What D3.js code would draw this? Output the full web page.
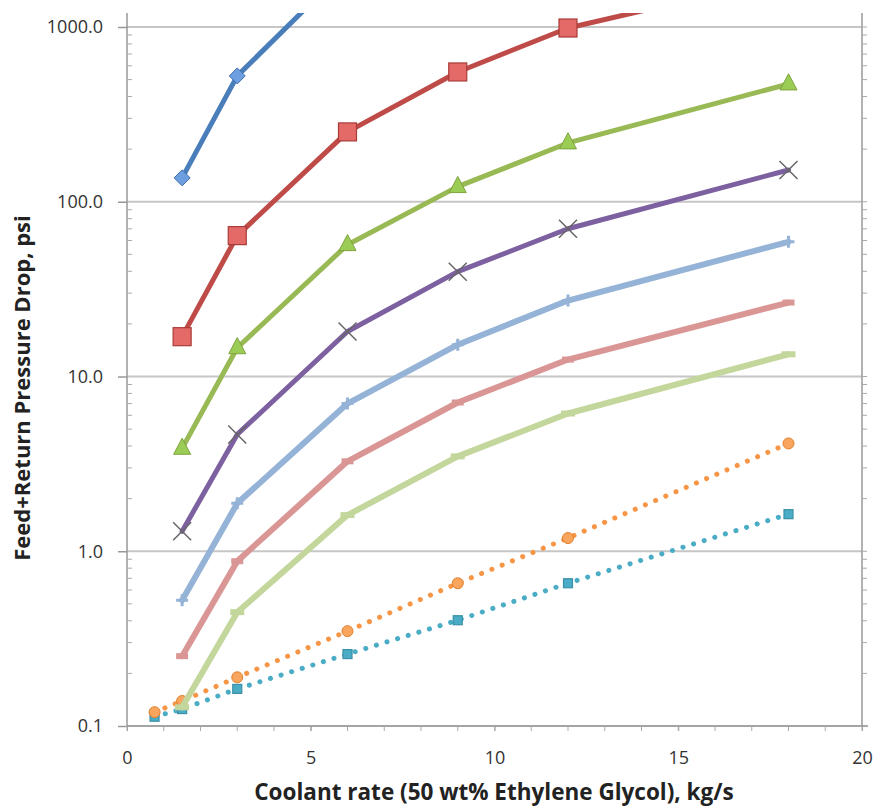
<!DOCTYPE html>
<html><head><meta charset="utf-8">
<script src="https://cdn.jsdelivr.net/npm/d3@7"></script>
<style>body{margin:0;background:#fff}svg{display:block}</style>
</head><body><svg id="c" width="877" height="806"></svg>
<script>
const xs = [0.75, 1.5, 3, 6, 9, 12, 18];
const blue   = [null, 137, 525, 2200, 4800, 8500, 19000];
const red    = [null, 16.9, 64, 251, 553, 987, 1930];
const green  = [null, 3.88, 14.6, 56.8, 122, 217, 472];
const purple = [null, 1.30, 4.66, 18.1, 39.8, 70.1, 152];
const ltblue = [null, 0.525, 1.88, 7.0, 15.2, 27.2, 59];
const pink   = [null, 0.251, 0.877, 3.27, 7.1, 12.5, 26.5];
const ltgreen= [null, 0.128, 0.448, 1.61, 3.49, 6.14, 13.4];
const orange = [0.120, 0.139, 0.19, 0.349, 0.656, 1.19, 4.14];
const teal   = [0.113, 0.125, 0.163, 0.258, 0.403, 0.656, 1.63];
const xTicks = [0, 5, 10, 15, 20];
const yTicks = [0.1, 1, 10, 100, 1000];
const xTitle = "Coolant rate (50 wt% Ethylene Glycol), kg/s";
const yTitle = "Feed+Return Pressure Drop, psi";

const svg = d3.select("#c");
const L = 127, R = 862, T = 13, B = 726;
const x = d3.scaleLinear().domain([0, 20]).range([L, R]);
const yTop = 1000 * Math.pow(10, 14 / 174.75);
const y = d3.scaleLog().domain([0.1, yTop]).range([B, T]);

const font = "'Open Sans', 'Liberation Sans', sans-serif";

// gridlines
svg.append("g").selectAll("line").data(yTicks).join("line")
  .attr("x1", L).attr("x2", R).attr("y1", d => y(d)).attr("y2", d => y(d))
  .attr("stroke", "#c6c6c6").attr("stroke-width", 2.2);

const minors = [];
for (let e = -1; e <= 3; e++) for (let m = 2; m <= 9; m++) { const v = m * Math.pow(10, e); if (v <= yTop) minors.push(v); }

// left axis
const gl = svg.append("g").attr("transform", `translate(${L},0)`);
gl.call(d3.axisLeft(y).tickValues(yTicks).tickFormat(d3.format(".1f")).tickSize(9).tickPadding(15));
gl.select(".domain").remove();
gl.selectAll(".tick line").attr("stroke", "#999").attr("stroke-width", 1.5);
gl.selectAll(".tick text").attr("font-family", font).attr("font-size", 18).attr("fill", "#333");
gl.append("line").attr("y1", T).attr("y2", B).attr("stroke", "#999").attr("stroke-width", 1.5);
gl.append("g").selectAll("line").data(minors).join("line")
  .attr("x1", 0).attr("x2", 5).attr("y1", d => y(d)).attr("y2", d => y(d)).attr("stroke", "#aaa").attr("stroke-width", 1);

// right axis
const gr = svg.append("g").attr("transform", `translate(${R},0)`);
gr.append("line").attr("y1", T).attr("y2", B).attr("stroke", "#999").attr("stroke-width", 1.5);
gr.append("g").selectAll("line").data(minors.concat(yTicks)).join("line")
  .attr("x1", 0).attr("x2", 5).attr("y1", d => y(d)).attr("y2", d => y(d)).attr("stroke", "#aaa").attr("stroke-width", 1);

// bottom axis
const gb = svg.append("g").attr("transform", `translate(0,${B})`);
gb.call(d3.axisBottom(x).tickValues(xTicks).tickSize(5).tickPadding(20));
gb.select(".domain").remove();
gb.selectAll(".tick line").attr("stroke", "#999");
gb.selectAll(".tick text").attr("font-family", font).attr("font-size", 18).attr("fill", "#333");
gb.append("line").attr("x1", L).attr("x2", R + 6).attr("stroke", "#999").attr("stroke-width", 1.5);
gb.append("g").selectAll("line").data(d3.range(0, 21)).join("line")
  .attr("x1", d => x(d)).attr("x2", d => x(d)).attr("y1", 0).attr("y2", 5).attr("stroke", "#aaa");

// titles
svg.append("text").attr("x", 494).attr("y", 800).attr("text-anchor", "middle")
  .attr("font-family", font).attr("font-weight", "bold").attr("font-size", 22.5).attr("fill", "#222").text(xTitle);
svg.append("text").attr("transform", `translate(30,388) rotate(-90)`).attr("text-anchor", "middle")
  .attr("font-family", font).attr("font-weight", "bold").attr("font-size", 22).attr("fill", "#222").text(yTitle);

// clip
svg.append("clipPath").attr("id", "clip").append("rect").attr("x", L).attr("y", T).attr("width", R - L + 20).attr("height", B - T + 20);
const plot = svg.append("g").attr("clip-path", "url(#clip)");

const series = [
  { v: teal, line: "#4bacc6", dotted: true, marker: "sq", mfill: "#4bacc6", mstroke: "#3b8fa6", ms: 9 },
  { v: orange, line: "#f79646", dotted: true, marker: "circle", mfill: "#f9a55e", mstroke: "#e07f2a", ms: 11 },
  { v: ltgreen, line: "#c3d69b", w: 6, marker: "dash", mfill: "#c3d69b", ms: 14 },
  { v: pink, line: "#d99694", w: 6, marker: "dash", mfill: "#d99694", ms: 12 },
  { v: ltblue, line: "#95b3d7", w: 6, marker: "plus", mfill: "#95b3d7", ms: 12 },
  { v: purple, line: "#7d60a0", marker: "x", mfill: "#666", ms: 18 },
  { v: green, line: "#98b954", marker: "tri", mfill: "#9bcc55", mstroke: "#7fa33e", ms: 17 },
  { v: red, line: "#be4b48", marker: "sq", mfill: "#e46a68", mstroke: "#a83b38", ms: 18 },
  { v: blue, line: "#4a7ebb", marker: "diamond", mfill: "#6d9ee0", mstroke: "#3f6fae", ms: 16 },
];

const lineGen = d3.line().x(d => x(d[0])).y(d => y(d[1]));

series.forEach(s => {
  const pts = xs.map((xv, i) => [xv, s.v[i]]).filter(d => d[1] != null);
  const p = plot.append("path").datum(pts).attr("d", lineGen).attr("fill", "none")
    .attr("stroke", s.line).attr("stroke-linejoin", "round").attr("stroke-width", s.w || 5);
  if (s.dotted) p.attr("stroke-dasharray", "0.1 11").attr("stroke-linecap", "round");
  else p.attr("stroke-linecap", "round");
  const g = plot.append("g");
  pts.filter(d => y(d[1]) >= T - 2).forEach(d => {
    const cx = x(d[0]), cy = y(d[1]), m = s.ms;
    if (s.marker === "sq") g.append("rect").attr("x", cx - m / 2).attr("y", cy - m / 2).attr("width", m).attr("height", m)
      .attr("fill", s.mfill).attr("stroke", s.mstroke).attr("stroke-width", 1.2);
    else if (s.marker === "circle") g.append("circle").attr("cx", cx).attr("cy", cy).attr("r", m / 2)
      .attr("fill", s.mfill).attr("stroke", s.mstroke).attr("stroke-width", 1);
    else if (s.marker === "diamond") g.append("path").attr("d", `M${cx},${cy - m / 2}L${cx + m / 2},${cy}L${cx},${cy + m / 2}L${cx - m / 2},${cy}Z`)
      .attr("fill", s.mfill).attr("stroke", s.mstroke).attr("stroke-width", 1);
    else if (s.marker === "tri") g.append("path").attr("d", `M${cx},${cy - m * 0.6}L${cx + m / 2},${cy + m * 0.35}L${cx - m / 2},${cy + m * 0.35}Z`)
      .attr("fill", s.mfill).attr("stroke", s.mstroke).attr("stroke-width", 1);
    else if (s.marker === "x") g.append("path").attr("d", `M${cx - m / 2},${cy - m / 2}L${cx + m / 2},${cy + m / 2}M${cx + m / 2},${cy - m / 2}L${cx - m / 2},${cy + m / 2}`)
      .attr("stroke", s.mfill).attr("stroke-width", 1.5);
    else if (s.marker === "plus") g.append("path").attr("d", `M${cx - m / 2},${cy}L${cx + m / 2},${cy}M${cx},${cy - m / 2}L${cx},${cy + m / 2}`)
      .attr("stroke", s.mfill).attr("stroke-width", 3);
    else if (s.marker === "dash") g.append("path").attr("d", `M${cx - m / 2},${cy}L${cx + m / 2},${cy}`)
      .attr("stroke", s.mfill).attr("stroke-width", 6);
  });
});
</script></body></html>
